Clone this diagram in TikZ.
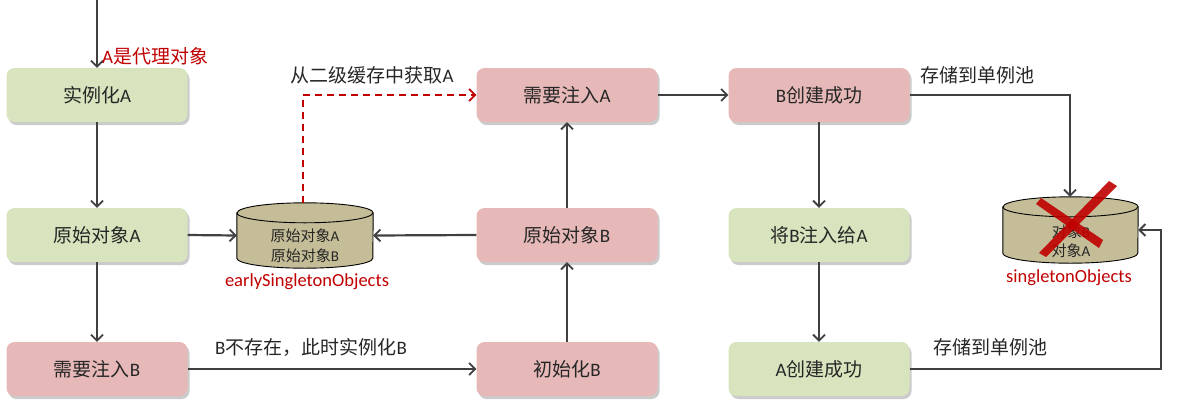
\documentclass[tikz,border=0pt]{standalone}
\usepackage{fontspec}
\setmainfont{Carlito}
\newfontfamily\zh{Noto Sans CJK SC}
\usetikzlibrary{arrows.meta,shadows,calc}
\definecolor{boxgreen}{RGB}{215,228,189}
\definecolor{boxpink}{RGB}{230,185,184}
\definecolor{cylfill}{RGB}{196,189,151}
\definecolor{linegray}{RGB}{64,64,64}
\definecolor{darkred}{RGB}{192,0,0}
\begin{document}
\begin{tikzpicture}[x=1pt,y=-1pt,
  box/.style={rounded corners=8pt, minimum width=181pt, minimum height=54pt, inner sep=0pt,
    font=\fontsize{19}{21}\selectfont, text=black!85,
    drop shadow={shadow xshift=2pt, shadow yshift=-3pt, fill=black!45, opacity=.45}},
  gbox/.style={box, fill=boxgreen},
  pbox/.style={box, fill=boxpink},
  conn/.style={draw=linegray, line width=2.2pt, -{Straight Barb[length=6pt,width=12pt,line width=1.8pt]}},
  lbl/.style={font=\fontsize{19}{21}\selectfont, text=black!85, inner sep=0pt},
  redlbl/.style={font=\fontsize{18.5}{20}\selectfont, text=darkred, inner sep=0pt},
  cyltext/.style={font=\fontsize{15}{17}\selectfont, text=black!85, inner sep=0pt},
]
\useasboundingbox (0,0) rectangle (1198,407);

% boxes
\node[gbox] (instA) at (97,95) {{\zh 实例化}A};
\node[gbox] (rawA) at (97,235) {{\zh 原始对象}A};
\node[pbox] (needB) at (97,369) {{\zh 需要注入}B};
\node[pbox] (needA) at (567,95) {{\zh 需要注入}A};
\node[pbox] (rawB) at (567,235) {{\zh 原始对象}B};
\node[pbox] (initB) at (567,369) {{\zh 初始化}B};
\node[pbox] (Bok) at (819,95) {B{\zh 创建成功}};
\node[gbox] (injBA) at (819,235) {{\zh 将}B{\zh 注入给}A};
\node[gbox] (Aok) at (819,369) {A{\zh 创建成功}};

% early cylinder
\node[minimum width=136pt, minimum height=65pt, inner sep=0pt] (early) at (305,235.5) {};
\fill[cylfill, draw=black, line width=0.9pt]
  (early.north west) ++(0,10) -- ($(early.south west)+(0,-10)$)
  arc[start angle=180, end angle=360, x radius=68pt, y radius=10pt]
  -- ($(early.north east)+(0,10)$)
  arc[start angle=0, end angle=180, x radius=68pt, y radius=10pt] -- cycle;
\draw[black, line width=0.9pt] ($(early.north west)+(0,10)$)
  arc[start angle=180, end angle=360, x radius=68pt, y radius=10pt];
\node[cyltext] at (305,236) {{\zh 原始对象}A};
\node[cyltext] at (305,256) {{\zh 原始对象}B};
\node[redlbl] (earlylbl) at (307,282) {earlySingletonObjects};

% singleton cylinder
\node[minimum width=135pt, minimum height=66pt, inner sep=0pt] (single) at (1070.5,230) {};
\fill[cylfill, draw=black, line width=0.9pt]
  ($(single.north west)+(0,10)$) -- ($(single.south west)+(0,-10)$)
  arc[start angle=180, end angle=360, x radius=67.5pt, y radius=10pt]
  -- ($(single.north east)+(0,10)$)
  arc[start angle=0, end angle=180, x radius=67.5pt, y radius=10pt] -- cycle;
\draw[black, line width=0.9pt] ($(single.north west)+(0,10)$)
  arc[start angle=180, end angle=360, x radius=67.5pt, y radius=10pt];
\node[cyltext] at (1071,232) {{\zh 对象}B};
\node[cyltext] at (1071,251) {{\zh 对象}A};
\node[redlbl] (singlelbl) at (1069,278) {singletonObjects};

% connectors
\coordinate (topstart) at (97,0);
\draw[conn] (topstart) -- (instA.north);
\node[redlbl, anchor=west, font=\fontsize{19}{21}\selectfont] at (102,56) {A{\zh 是代理对象}};
\draw[conn] (instA) -- (rawA);
\draw[conn] (rawA) -- (needB);
\draw[conn] (rawA.east) -- (early.west);
\draw[conn] (rawB.west) -- (early.east);
\draw[conn] (needB.east) -- (initB.west);
\node[lbl] at (311,347) {B{\zh 不存在，此时实例化}B};
\draw[conn] (initB) -- (rawB);
\draw[conn] (rawB) -- (needA);
\draw[conn] (needA) -- (Bok);
\draw[conn] (Bok) -- (injBA);
\draw[conn] (injBA) -- (Aok);
\draw[conn] (Bok.east) -| (single.north -| 1070,0);
\node[lbl] at (977,75) {{\zh 存储到单例池}};
\draw[conn] (Aok.east) -- (1161,369) |- (single.east);
\node[lbl] at (990,347) {{\zh 存储到单例池}};

% dashed red
\draw[draw=darkred, line width=2pt, dash pattern=on 7pt off 5pt,
  -{Straight Barb[length=6pt,width=12pt,line width=1.8pt]}]
  (early.north -| 303,0) |- (needA.west);
\node[lbl] at (372,75) {{\zh 从二级缓存中获取}A};

% red X
\fill[darkred, opacity=.9] (1036,204) -- (1041,198) -- (1103,240) -- (1099,248) -- cycle;
\fill[darkred, opacity=.9] (1109,181) -- (1117,186) -- (1046,257) -- (1039,253) -- cycle;
\end{tikzpicture}
\end{document}
